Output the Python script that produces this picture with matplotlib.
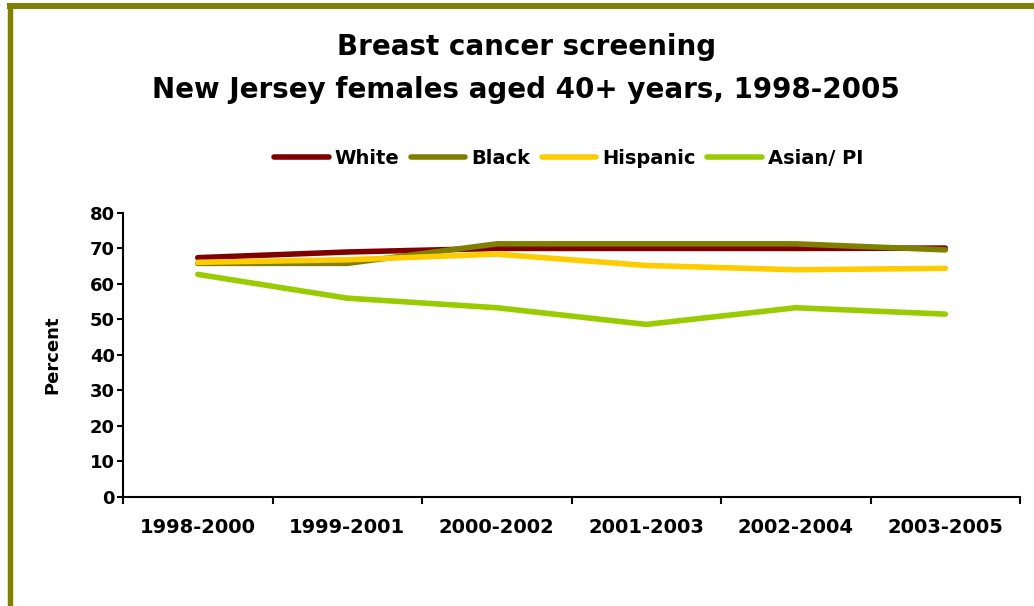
import matplotlib
matplotlib.use("Agg")
import matplotlib.pyplot as plt
from matplotlib.lines import Line2D

periods = ["1998-2000", "1999-2001", "2000-2002", "2001-2003", "2002-2004", "2003-2005"]
white = [67.4, 69.0, 70.0, 70.0, 70.0, 70.1]
black = [65.8, 65.8, 71.3, 71.3, 71.3, 69.6]
hispanic = [66.1, 66.8, 68.4, 65.2, 64.0, 64.4]
asian = [62.7, 56.0, 53.3, 48.6, 53.3, 51.5]
series_names = ["White", "Black", "Hispanic", "Asian/ PI"]
colors = ["#800000", "#808000", "#FFCC00", "#99CC00"]
yticks = [0, 10, 20, 30, 40, 50, 60, 70, 80]

plt.rcParams['font.family'] = ['DejaVu Sans']
plt.rcParams['font.weight'] = 'bold'

fig = plt.figure(figsize=(10.34, 6.06), dpi=100)
ax = fig.add_axes([0.119, 0.18, 0.8675, 0.4686])

x = list(range(len(periods)))
for vals, name, c in zip([white, black, hispanic, asian], series_names, colors):
    ax.plot(x, vals, color=c, lw=4.0, label=name, solid_capstyle='round', solid_joinstyle='round')

ax.set_xlim(-0.5, len(periods) - 0.5)
ax.set_ylim(0, 80)
ax.set_yticks(yticks)
ax.set_yticklabels([str(v) for v in yticks], fontsize=13, fontweight='bold')
ax.set_xticks(x)
ax.set_xticklabels(periods, fontsize=14, fontweight='bold')
ax.set_xticks([i - 0.5 for i in range(len(periods) + 1)], minor=True)
ax.tick_params(axis='x', which='major', length=0, pad=15)
ax.tick_params(axis='x', which='minor', length=5, width=1.5, direction='out')
ax.tick_params(axis='y', length=4, width=1.5, direction='out', pad=2)
for s in ['top', 'right']:
    ax.spines[s].set_visible(False)
for s in ['left', 'bottom']:
    ax.spines[s].set_linewidth(1.5)
ax.set_ylabel("Percent", fontsize=13, fontweight='bold', labelpad=20)

fig.text(0.509, 0.922, "Breast cancer screening", ha='center', va='center', fontsize=20, fontweight='bold')
fig.text(0.509, 0.852, "New Jersey females aged 40+ years, 1998-2005", ha='center', va='center', fontsize=20, fontweight='bold')

handles = [Line2D([0], [0], color=c, lw=4.0, solid_capstyle='round') for c in colors]
fig.legend(handles, series_names, loc='center', bbox_to_anchor=(0.550, 0.738), ncol=4, frameon=False,
           prop={'size': 14, 'weight': 'bold'}, handlelength=2.8, columnspacing=0.6, handletextpad=0.3)

# olive border (left and top)
fig.add_artist(Line2D([0.0097, 0.0097], [0.0, 0.995], color="#808000", lw=3.9, transform=fig.transFigure, solid_capstyle='butt'))
fig.add_artist(Line2D([0.007, 1.0], [0.9896, 0.9896], color="#808000", lw=4.3, transform=fig.transFigure, solid_capstyle='butt'))

fig.savefig("out.png", dpi=100)
